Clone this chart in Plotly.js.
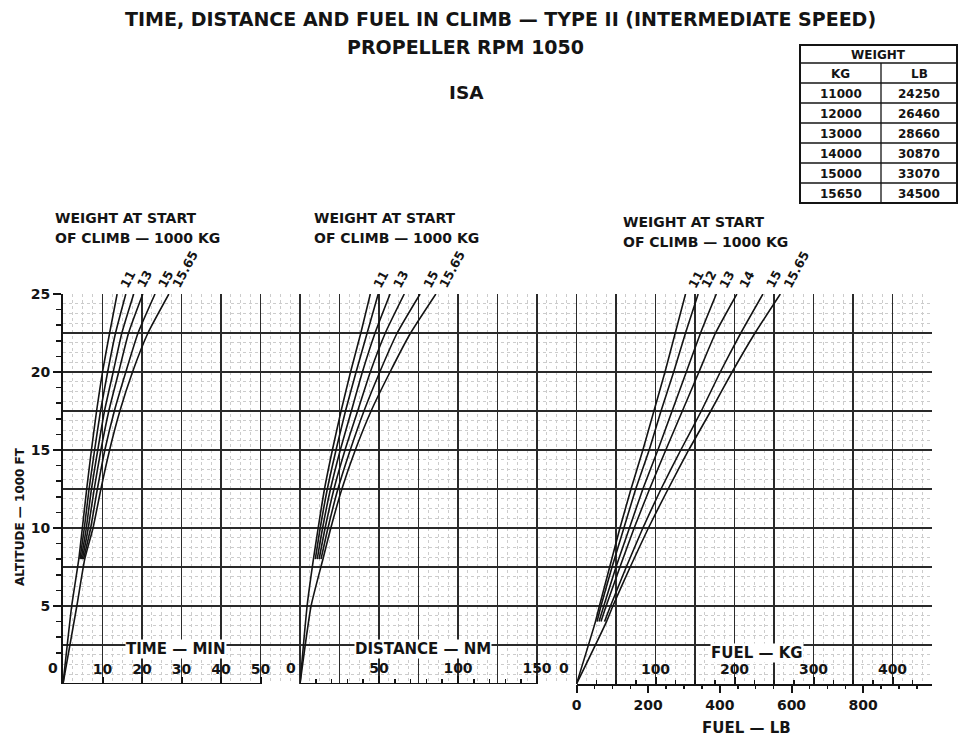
<!DOCTYPE html>
<html><head><meta charset="utf-8">
<script src="https://cdn.plot.ly/plotly-3.0.1.min.js"></script>
<style>body{margin:0;background:#fff}#chart{width:960px;height:738px}</style>
</head><body><div id="chart"></div>
<script>
// ---------------- DATA ----------------
const WEIGHT_LABELS = ['11', '12', '13', '14', '15', '15.65'];
const LABELED_TD = ['11', '13', '15', '15.65'];   // labels shown on time & distance panels

const ALT_TD = [0, 5, 8, 10, 12.5, 15, 17.5, 20, 22.5, 25];      // 1000 ft
const TIME_11   = [0, 2.2, 4.0, 4.9, 6.0, 7.2, 8.5, 10.0, 11.8, 13.7];
const TIME_12   = [null, null, 4.3, 5.4, 6.6, 8.0, 9.5, 11.3, 13.3, 15.9];
const TIME_13   = [null, null, 4.6, 5.9, 7.2, 8.8, 10.5, 12.7, 14.9, 17.9];
const TIME_14   = [null, null, 4.9, 6.4, 7.9, 9.6, 11.6, 14.1, 16.6, 20.2];
const TIME_15   = [null, null, 5.2, 7.0, 8.7, 10.6, 13.0, 15.9, 19.0, 23.3];
const TIME_1565 = [0, 3.5, 5.5, 7.6, 9.6, 11.8, 14.4, 17.6, 21.5, 26.8];

const DIST_11   = [0, 4.5, 8.5, 11.5, 15.5, 20.5, 26.0, 32.0, 38.5, 44.5];
const DIST_12   = [null, null, 9.7, 12.8, 17.3, 22.8, 28.8, 35.5, 42.5, 49.5];
const DIST_13   = [null, null, 10.9, 14.3, 19.3, 25.5, 32.5, 39.5, 47.5, 57.0];
const DIST_14   = [null, null, 12.1, 15.9, 21.5, 28.5, 36.5, 44.5, 54.0, 66.0];
const DIST_15   = [null, null, 13.3, 17.7, 24.0, 31.8, 40.5, 50.5, 61.5, 76.0];
const DIST_1565 = [0, 7.0, 14.5, 19.5, 26.5, 35.0, 45.0, 57.0, 70.0, 86.0];

const ALT_FUEL = [0, 4, 5, 7.5, 10, 12.5, 15, 17.5, 20, 22.5, 25];
const FUEL_11   = [0, 24, 29, 42, 55, 69, 84, 98, 112, 125, 138];
const FUEL_12   = [null, 26, 31, 45, 60, 75, 92, 107, 123, 138, 154];
const FUEL_13   = [null, 28.5, 34.5, 50, 67, 84, 103, 121, 139, 157, 177];
const FUEL_14   = [null, 31, 37.5, 55, 73, 92.5, 113, 134, 155, 176, 203];
const FUEL_15   = [null, 35.5, 43, 63, 84, 107, 132, 158, 182, 208, 236];
const FUEL_1565 = [0, 38, 46, 68, 91, 116, 142, 170, 197, 226, 258];

const TIME_TICKS = [10, 20, 30, 40, 50];
const DIST_TICKS = [50, 100, 150];
const FUEL_KG_TICKS = [100, 200, 300, 400];
const FUEL_LB_TICKS = [0, 200, 400, 600, 800];
const ALT_TICKS = [0, 5, 10, 15, 20, 25];

const TABLE_KG = ['11000', '12000', '13000', '14000', '15000', '15650'];
const TABLE_LB = ['24250', '26460', '28660', '30870', '33070', '34500'];

// ---------------- LAYOUT HELPERS ----------------
const L = 63, R = 932, T = 294, B = 684;
const W = 960, H = 738;
const px = v => (v - L) / (R - L);
const py = v => (B - v) / (B - T);
const KG_PER_LB = 0.45359237;
const FONT = 'DejaVu Sans, Liberation Sans, Arial, sans-serif';
const INK = '#141414';
const F = (size) => ({family: FONT, size: size, color: INK, weight: 700});

const TIME_SERIES = [TIME_11, TIME_12, TIME_13, TIME_14, TIME_15, TIME_1565];
const DIST_SERIES = [DIST_11, DIST_12, DIST_13, DIST_14, DIST_15, DIST_1565];
const FUEL_SERIES = [FUEL_11, FUEL_12, FUEL_13, FUEL_14, FUEL_15, FUEL_1565];

const traces = [];
// invisible anchors so the chart-paper grid and the LB scale are drawn
const ghost = (xa, ya) => ({x: [0], y: [0], xaxis: xa, yaxis: ya, mode: 'markers', marker: {opacity: 0}, hoverinfo: 'skip', showlegend: false});
traces.push(ghost('x', 'y'));
traces.push(ghost('x', 'y2'));
traces.push(ghost('x5', 'y'));

function addPanel(series, alts, xaxis) {
  series.forEach((vals, i) => {
    traces.push({
      x: vals, y: alts, xaxis: xaxis, yaxis: 'y', mode: 'lines',
      name: WEIGHT_LABELS[i], connectgaps: false,
      line: {color: INK, width: 1.6, shape: 'spline', smoothing: 0.5},
      hoverinfo: 'x+y+name', showlegend: false
    });
  });
}
addPanel(TIME_SERIES, ALT_TD, 'x2');
addPanel(DIST_SERIES, ALT_TD, 'x3');
addPanel(FUEL_SERIES, ALT_FUEL, 'x4');

const annotations = [];
function txt(text, x, y, opts) {
  annotations.push(Object.assign({
    text: text, x: px(x), y: py(y), xref: 'paper', yref: 'paper', showarrow: false,
    xanchor: 'center', yanchor: 'middle', font: F(13)
  }, opts || {}));
}

// titles
txt('TIME, DISTANCE AND FUEL IN CLIMB — TYPE II (INTERMEDIATE SPEED)', 500, 19, {font: F(19)});
txt('PROPELLER RPM 1050', 465, 47, {font: F(19)});
txt('ISA', 466, 92, {font: F(18.5)});

// panel headers
[[53, 218], [312, 218], [621, 222]].forEach(p => {
  txt('WEIGHT AT START', p[0], p[1], {xanchor: 'left', font: F(14)});
  txt('OF CLIMB — 1000 KG', p[0], p[1] + 20, {xanchor: 'left', font: F(14)});
});

// axis names (inside chart, white backing)
txt('TIME — MIN', 176, 649, {bgcolor: '#ffffff', borderpad: 0, font: F(15)});
txt('DISTANCE — NM', 423, 649, {bgcolor: '#ffffff', borderpad: 0, font: F(15)});
txt('FUEL — KG', 757, 653, {bgcolor: '#ffffff', borderpad: 0, font: F(15)});
txt('FUEL — LB', 746, 728, {font: F(15)});
txt('ALTITUDE — 1000 FT', 20, 517, {textangle: -90, font: F(12)});

// zero labels of the inner scales
txt('0', 53, 668, {font: F(14)});
txt('0', 291, 668, {font: F(14)});
txt('0', 564, 668, {font: F(14)});

// weight labels at line tops
function topLabel(text, xref, xval) {
  annotations.push({
    text: text, xref: xref, yref: 'y', x: xval, y: 25, showarrow: false,
    textangle: -62, xanchor: 'left', yanchor: 'bottom', xshift: -3, yshift: 1,
    font: F(12.5)
  });
}
WEIGHT_LABELS.forEach((w, i) => {
  if (LABELED_TD.includes(w)) {
    topLabel(w, 'x2', TIME_SERIES[i][TIME_SERIES[i].length - 1]);
    topLabel(w, 'x3', DIST_SERIES[i][DIST_SERIES[i].length - 1]);
  }
  topLabel(w, 'x4', FUEL_SERIES[i][FUEL_SERIES[i].length - 1]);
});

// weight conversion table
const shapes = [];
const TB = {x0: 800, x1: 957, xm: 881, top: 45, h0: 63, h1: 83, row: 20};
function hline(x0, x1, y, w) {
  shapes.push({type: 'line', xref: 'paper', yref: 'paper', x0: px(x0), x1: px(x1), y0: py(y), y1: py(y), line: {color: INK, width: w || 1.3}});
}
function vline(x, y0, y1, w) {
  shapes.push({type: 'line', xref: 'paper', yref: 'paper', x0: px(x), x1: px(x), y0: py(y0), y1: py(y1), line: {color: INK, width: w || 1.3}});
}
const tBottom = TB.h1 + TB.row * TABLE_KG.length;
shapes.push({type: 'rect', xref: 'paper', yref: 'paper', x0: px(TB.x0), x1: px(TB.x1), y0: py(TB.top), y1: py(tBottom), line: {color: INK, width: 2}});
hline(TB.x0, TB.x1, TB.h0);
hline(TB.x0, TB.x1, TB.h1);
vline(TB.xm, TB.h0, tBottom);
TABLE_KG.forEach((k, i) => { if (i > 0) hline(TB.x0, TB.x1, TB.h1 + TB.row * i); });
const tf = F(12);
txt('WEIGHT', (TB.x0 + TB.x1) / 2, (TB.top + TB.h0) / 2 + 1, {font: tf});
txt('KG', (TB.x0 + TB.xm) / 2, (TB.h0 + TB.h1) / 2 + 1, {font: tf});
txt('LB', (TB.xm + TB.x1) / 2, (TB.h0 + TB.h1) / 2 + 1, {font: tf});
TABLE_KG.forEach((k, i) => {
  const yc = TB.h1 + TB.row * i + TB.row / 2 + 1;
  txt(k, (TB.x0 + TB.xm) / 2, yc, {font: F(12)});
  txt(TABLE_LB[i], (TB.xm + TB.x1) / 2, yc, {font: F(12)});
});

// scale base lines for time & distance (end at the last tick)
const baseLine = (xref, x1) => shapes.push({type: 'line', xref: xref, yref: 'y', x0: 0, x1: x1, y0: 0, y1: 0, line: {color: INK, width: 2}, layer: 'above'});
baseLine('x2', TIME_TICKS[TIME_TICKS.length - 1]);
baseLine('x3', DIST_TICKS[DIST_TICKS.length - 1]);

const tickFont = F(14);
const panelAxis = (domain, range, tickvals, extra) => Object.assign({
  domain: domain, range: range, anchor: 'y', tickvals: tickvals,
  ticks: 'inside', ticklen: 7, tickwidth: 2, tickcolor: INK,
  ticklabelposition: 'inside', tickfont: tickFont,
  showline: false, linewidth: 2, linecolor: INK,
  showgrid: false, zeroline: false, fixedrange: true
}, extra || {});

const TIME_PX = 39.5 / 10, DIST_PX = 39.5 / 25;
const layout = {
  width: W, height: H,
  margin: {l: L, r: W - R, t: T, b: H - B},
  paper_bgcolor: '#ffffff', plot_bgcolor: 'rgba(0,0,0,0)',
  showlegend: false,
  font: {family: FONT, color: INK},
  // background chart-paper grid
  xaxis: {
    domain: [0, 1], range: [0, 22], anchor: 'y', dtick: 1, tick0: 0,
    showgrid: true, gridcolor: '#2a2a2a', gridwidth: 1.4,
    showticklabels: false, ticks: '', showline: false, zeroline: false, fixedrange: true,
    minor: {dtick: 0.25, showgrid: true, gridcolor: '#cccccc', griddash: 'dot', gridwidth: 1}
  },
  yaxis2: {
    overlaying: 'y', anchor: 'x', range: [0, 10], tickvals: [1, 2, 3, 4, 5, 6, 7, 8, 9, 10],
    showgrid: true, gridcolor: '#2a2a2a', gridwidth: 1.4,
    showticklabels: false, ticks: '', showline: false, zeroline: false, fixedrange: true,
    minor: {dtick: 0.25, showgrid: true, gridcolor: '#cccccc', griddash: 'dot', gridwidth: 1}
  },
  yaxis: {
    domain: [0, 1], range: [0, 25], tickvals: ALT_TICKS,
    ticks: 'outside', ticklen: 8, tickwidth: 2, tickcolor: INK,
    minor: {dtick: 1, ticks: 'outside', ticklen: 5, tickwidth: 1.5, tickcolor: INK, showgrid: false},
    tickfont: F(14),
    showline: true, linewidth: 2, linecolor: INK, showgrid: false, zeroline: false, fixedrange: true
  },
  xaxis2: panelAxis([0, px(63 + 56 * TIME_PX)], [0, 56], TIME_TICKS),
  xaxis3: panelAxis([px(300), px(300 + 170 * DIST_PX)], [0, 170], DIST_TICKS, {
    ticklen: 8, minor: {tickvals: [10, 20, 30, 40, 60, 70, 80, 90, 110, 120, 130, 140], ticks: 'inside', ticklen: 5, tickwidth: 1.5, tickcolor: INK}
  }),
  xaxis4: panelAxis([px(576.5), 1], [0, 450], FUEL_KG_TICKS, {
    showline: true,
    minor: {dtick: 25, ticks: 'inside', ticklen: 4, tickwidth: 1.5, tickcolor: INK}
  }),
  xaxis5: {
    overlaying: 'x4', anchor: 'y', side: 'bottom', range: [0, 450 / KG_PER_LB],
    tickvals: FUEL_LB_TICKS, ticks: 'outside', ticklen: 8, tickwidth: 2, tickcolor: INK,
    minor: {dtick: 50, ticks: 'outside', ticklen: 4, tickwidth: 1.5, tickcolor: INK},
    tickfont: tickFont, showline: false, showgrid: false, zeroline: false, fixedrange: true
  },
  annotations: annotations,
  shapes: shapes
};

Plotly.newPlot('chart', traces, layout, {displayModeBar: false, staticPlot: true});
</script>
</body></html>
